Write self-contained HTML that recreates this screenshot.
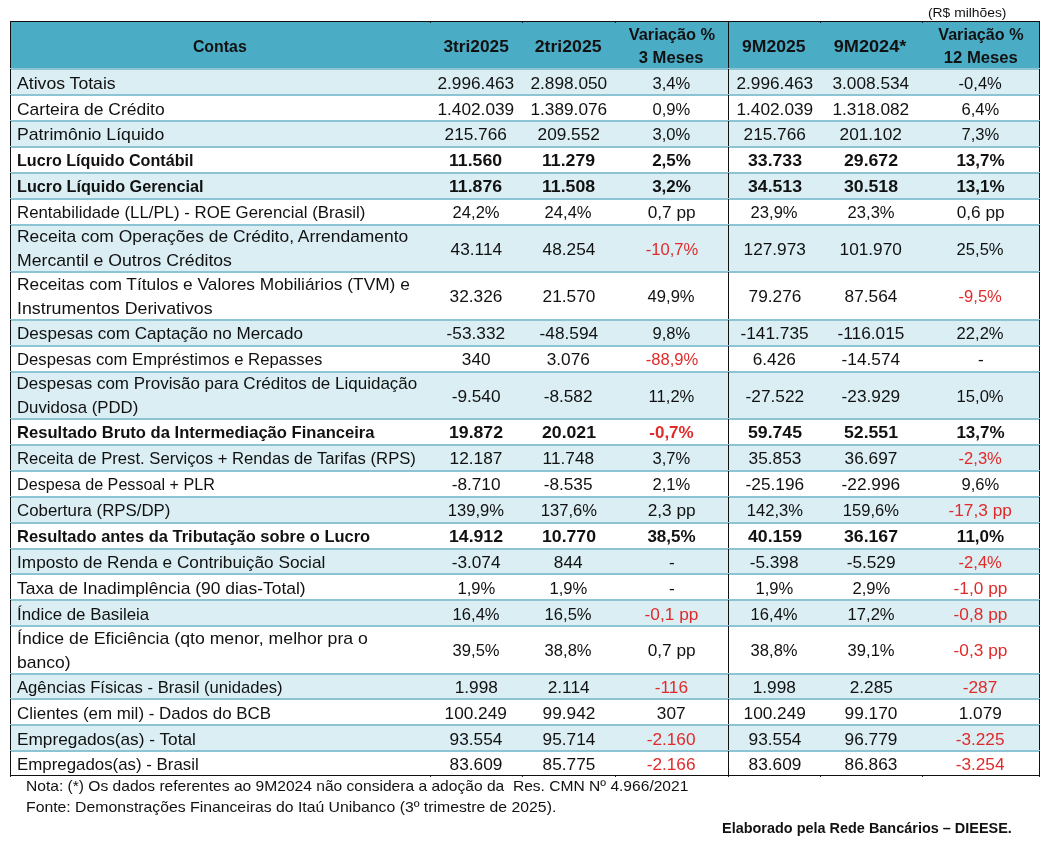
<!DOCTYPE html>
<html lang="pt-BR">
<head>
<meta charset="utf-8">
<title>Itaú Unibanco - 3tri2025</title>
<style>
html,body{margin:0;padding:0;background:#fff;}
body{width:1048px;height:841px;position:relative;overflow:hidden;font-family:"Liberation Sans",sans-serif;color:#111;}
.unit{position:absolute;left:927.5px;top:3.5px;font-size:13px;line-height:18px;white-space:nowrap;transform-origin:0 50%;transform:scaleX(1.064);}
.frame{position:absolute;left:10px;top:21px;width:1028px;height:753px;border:1px solid #111;}
.vline{position:absolute;left:728px;top:21px;width:1px;height:755px;background:#111;}
.ov{position:absolute;left:10px;width:1030px;height:1px;background:#8cc4d3;}
.tk{position:absolute;width:1px;height:1px;background:#222;}
.hdr{position:absolute;left:11px;top:22px;width:1028px;height:46px;background:#4bacc6;}
.hdr div{position:absolute;top:1.5px;height:46px;display:flex;flex-direction:column;align-items:center;justify-content:center;text-align:center;white-space:nowrap;font-weight:bold;font-size:17px;line-height:22.5px;}
.hdr span{display:block;}
.hdr div.s{top:2.5px;}
.row{position:absolute;left:11px;width:1028px;border-top:2px solid #8cc4d3;box-sizing:border-box;}
.row.a{background:#daeef3;}
.row.b{background:#fff;}
.c{position:absolute;top:1px;bottom:-1px;display:flex;flex-direction:column;justify-content:flex-end;font-size:17px;line-height:23.3px;white-space:nowrap;}
.row.u .c{top:0;bottom:0;}
.c.l{left:5.6px;padding-bottom:0;}
.c.n{align-items:center;}
.c.m{justify-content:center;}
.c.n span{display:block;transform:scaleX(1.015);}
.c.n span.p{transform:scaleX(.975);}
.bold .c.n span{transform:scaleX(1.04);}
.bold .c.n span.p{transform:scaleX(1);}
.bold{font-weight:bold;}
.c.l span{display:block;transform-origin:0 50%;}
.red{color:#e12a2a;}
.note{position:absolute;left:25.5px;font-size:15px;line-height:20.8px;white-space:pre;transform-origin:0 50%;}
.elab{position:absolute;left:722px;top:818.1px;transform:scaleX(.963);transform-origin:0 50%;font-size:15px;line-height:20.8px;font-weight:bold;white-space:nowrap;transform-origin:0 50%;}
</style>
</head>
<body>
<div class="unit">(R$ milhões)</div>
<div class="hdr">
<div class="s" style="left:-1px;width:419px"><span style="transform:scaleX(0.934)">Contas</span></div>
<div class="s" style="left:419px;width:92px"><span style="transform:scaleX(1.016)">3tri2025</span></div>
<div class="s" style="left:511px;width:93px"><span style="transform:scaleX(1.04)">2tri2025</span></div>
<div style="left:604px;width:113px"><span style="transform:scaleX(0.963)">Variação %</span><span style="transform:scaleX(0.977)">3 Meses</span></div>
<div class="s" style="left:717.5px;width:91px"><span style="transform:scaleX(1.033)">9M2025</span></div>
<div class="s" style="left:808px;width:102px"><span style="transform:scaleX(1.066)">9M2024*</span></div>
<div style="left:911px;width:117px"><span style="transform:scaleX(0.95)">Variação %</span><span style="transform:scaleX(0.98)">12 Meses</span></div>
</div>
<div class="row a" style="top:68px;height:26px">
  <div class="c l"><span id="L0_0" style="transform:scaleX(1.0371)">Ativos Totais</span></div>
  <div class="c n" style="left:419px;width:92px"><span>2.996.463</span></div>
  <div class="c n" style="left:511px;width:93px"><span>2.898.050</span></div>
  <div class="c n" style="left:604px;width:113px"><span class="p">3,4%</span></div>
  <div class="c n" style="left:718px;width:91px"><span>2.996.463</span></div>
  <div class="c n" style="left:809px;width:102px"><span>3.008.534</span></div>
  <div class="c n" style="left:911px;width:117px"><span class="p">-0,4%</span></div>
</div>
<div class="row b" style="top:94px;height:26px">
  <div class="c l"><span id="L1_0" style="transform:scaleX(1.0281)">Carteira de Crédito</span></div>
  <div class="c n" style="left:419px;width:92px"><span>1.402.039</span></div>
  <div class="c n" style="left:511px;width:93px"><span>1.389.076</span></div>
  <div class="c n" style="left:604px;width:113px"><span class="p">0,9%</span></div>
  <div class="c n" style="left:718px;width:91px"><span>1.402.039</span></div>
  <div class="c n" style="left:809px;width:102px"><span>1.318.082</span></div>
  <div class="c n" style="left:911px;width:117px"><span class="p">6,4%</span></div>
</div>
<div class="row a u" style="top:120px;height:26px">
  <div class="c l"><span id="L2_0" style="transform:scaleX(1.0389)">Patrimônio Líquido</span></div>
  <div class="c n" style="left:419px;width:92px"><span>215.766</span></div>
  <div class="c n" style="left:511px;width:93px"><span>209.552</span></div>
  <div class="c n" style="left:604px;width:113px"><span class="p">3,0%</span></div>
  <div class="c n" style="left:718px;width:91px"><span>215.766</span></div>
  <div class="c n" style="left:809px;width:102px"><span>201.102</span></div>
  <div class="c n" style="left:911px;width:117px"><span class="p">7,3%</span></div>
</div>
<div class="row b bold u" style="top:146px;height:26px">
  <div class="c l"><span id="L3_0" style="transform:scaleX(0.9485)">Lucro Líquido Contábil</span></div>
  <div class="c n" style="left:419px;width:92px"><span>11.560</span></div>
  <div class="c n" style="left:511px;width:93px"><span>11.279</span></div>
  <div class="c n" style="left:604px;width:113px"><span class="p">2,5%</span></div>
  <div class="c n" style="left:718px;width:91px"><span>33.733</span></div>
  <div class="c n" style="left:809px;width:102px"><span>29.672</span></div>
  <div class="c n" style="left:911px;width:117px"><span class="p">13,7%</span></div>
</div>
<div class="row a bold u" style="top:172px;height:26px">
  <div class="c l"><span id="L4_0" style="transform:scaleX(0.9537)">Lucro Líquido Gerencial</span></div>
  <div class="c n" style="left:419px;width:92px"><span>11.876</span></div>
  <div class="c n" style="left:511px;width:93px"><span>11.508</span></div>
  <div class="c n" style="left:604px;width:113px"><span class="p">3,2%</span></div>
  <div class="c n" style="left:718px;width:91px"><span>34.513</span></div>
  <div class="c n" style="left:809px;width:102px"><span>30.518</span></div>
  <div class="c n" style="left:911px;width:117px"><span class="p">13,1%</span></div>
</div>
<div class="row b u" style="top:198px;height:26px">
  <div class="c l"><span id="L5_0" style="transform:scaleX(0.9886)">Rentabilidade (LL/PL) - ROE Gerencial (Brasil)</span></div>
  <div class="c n" style="left:419px;width:92px"><span class="p">24,2%</span></div>
  <div class="c n" style="left:511px;width:93px"><span class="p">24,4%</span></div>
  <div class="c n" style="left:604px;width:113px"><span>0,7 pp</span></div>
  <div class="c n" style="left:718px;width:91px"><span class="p">23,9%</span></div>
  <div class="c n" style="left:809px;width:102px"><span class="p">23,3%</span></div>
  <div class="c n" style="left:911px;width:117px"><span>0,6 pp</span></div>
</div>
<div class="row a" style="top:224px;height:47px">
  <div class="c l"><span id="L6_0" style="transform:scaleX(1.0249)">Receita com Operações de Crédito, Arrendamento</span><span id="L6_1" style="transform:scaleX(1.0388)">Mercantil e Outros Créditos</span></div>
  <div class="c n m" style="left:419px;width:92px"><span>43.114</span></div>
  <div class="c n m" style="left:511px;width:93px"><span>48.254</span></div>
  <div class="c n m red" style="left:604px;width:113px"><span class="p">-10,7%</span></div>
  <div class="c n m" style="left:718px;width:91px"><span>127.973</span></div>
  <div class="c n m" style="left:809px;width:102px"><span>101.970</span></div>
  <div class="c n m" style="left:911px;width:117px"><span class="p">25,5%</span></div>
</div>
<div class="row b" style="top:271px;height:48px">
  <div class="c l"><span id="L7_0" style="transform:scaleX(1.0182)">Receitas com Títulos e Valores Mobiliários (TVM) e</span><span id="L7_1" style="transform:scaleX(1.0456)">Instrumentos Derivativos</span></div>
  <div class="c n m" style="left:419px;width:92px"><span>32.326</span></div>
  <div class="c n m" style="left:511px;width:93px"><span>21.570</span></div>
  <div class="c n m" style="left:604px;width:113px"><span class="p">49,9%</span></div>
  <div class="c n m" style="left:718px;width:91px"><span>79.276</span></div>
  <div class="c n m" style="left:809px;width:102px"><span>87.564</span></div>
  <div class="c n m red" style="left:911px;width:117px"><span class="p">-9,5%</span></div>
</div>
<div class="row a u" style="top:319px;height:26px">
  <div class="c l"><span id="L8_0" style="transform:scaleX(1.0053)">Despesas com Captação no Mercado</span></div>
  <div class="c n" style="left:419px;width:92px"><span>-53.332</span></div>
  <div class="c n" style="left:511px;width:93px"><span>-48.594</span></div>
  <div class="c n" style="left:604px;width:113px"><span class="p">9,8%</span></div>
  <div class="c n" style="left:718px;width:91px"><span>-141.735</span></div>
  <div class="c n" style="left:809px;width:102px"><span>-116.015</span></div>
  <div class="c n" style="left:911px;width:117px"><span class="p">22,2%</span></div>
</div>
<div class="row b u" style="top:345px;height:26px">
  <div class="c l"><span id="L9_0" style="transform:scaleX(0.9823)">Despesas com Empréstimos e Repasses</span></div>
  <div class="c n" style="left:419px;width:92px"><span>340</span></div>
  <div class="c n" style="left:511px;width:93px"><span>3.076</span></div>
  <div class="c n red" style="left:604px;width:113px"><span class="p">-88,9%</span></div>
  <div class="c n" style="left:718px;width:91px"><span>6.426</span></div>
  <div class="c n" style="left:809px;width:102px"><span>-14.574</span></div>
  <div class="c n" style="left:911px;width:117px"><span>-</span></div>
</div>
<div class="row a" style="top:371px;height:47px">
  <div class="c l"><span id="L10_0" style="transform:scaleX(1.0000)">Despesas com Provisão para Créditos de Liquidação</span><span id="L10_1" style="transform:scaleX(0.9876)">Duvidosa (PDD)</span></div>
  <div class="c n m" style="left:419px;width:92px"><span>-9.540</span></div>
  <div class="c n m" style="left:511px;width:93px"><span>-8.582</span></div>
  <div class="c n m" style="left:604px;width:113px"><span class="p">11,2%</span></div>
  <div class="c n m" style="left:718px;width:91px"><span>-27.522</span></div>
  <div class="c n m" style="left:809px;width:102px"><span>-23.929</span></div>
  <div class="c n m" style="left:911px;width:117px"><span class="p">15,0%</span></div>
</div>
<div class="row b bold u" style="top:418px;height:26px">
  <div class="c l"><span id="L11_0" style="transform:scaleX(0.9754)">Resultado Bruto da Intermediação Financeira</span></div>
  <div class="c n" style="left:419px;width:92px"><span>19.872</span></div>
  <div class="c n" style="left:511px;width:93px"><span>20.021</span></div>
  <div class="c n red" style="left:604px;width:113px"><span class="p">-0,7%</span></div>
  <div class="c n" style="left:718px;width:91px"><span>59.745</span></div>
  <div class="c n" style="left:809px;width:102px"><span>52.551</span></div>
  <div class="c n" style="left:911px;width:117px"><span class="p">13,7%</span></div>
</div>
<div class="row a u" style="top:444px;height:26px">
  <div class="c l"><span id="L12_0" style="transform:scaleX(0.9791)">Receita de Prest. Serviços + Rendas de Tarifas (RPS)</span></div>
  <div class="c n" style="left:419px;width:92px"><span>12.187</span></div>
  <div class="c n" style="left:511px;width:93px"><span>11.748</span></div>
  <div class="c n" style="left:604px;width:113px"><span class="p">3,7%</span></div>
  <div class="c n" style="left:718px;width:91px"><span>35.853</span></div>
  <div class="c n" style="left:809px;width:102px"><span>36.697</span></div>
  <div class="c n red" style="left:911px;width:117px"><span class="p">-2,3%</span></div>
</div>
<div class="row b u" style="top:470px;height:26px">
  <div class="c l"><span id="L13_0" style="transform:scaleX(0.9494)">Despesa de Pessoal + PLR</span></div>
  <div class="c n" style="left:419px;width:92px"><span>-8.710</span></div>
  <div class="c n" style="left:511px;width:93px"><span>-8.535</span></div>
  <div class="c n" style="left:604px;width:113px"><span class="p">2,1%</span></div>
  <div class="c n" style="left:718px;width:91px"><span>-25.196</span></div>
  <div class="c n" style="left:809px;width:102px"><span>-22.996</span></div>
  <div class="c n" style="left:911px;width:117px"><span class="p">9,6%</span></div>
</div>
<div class="row a u" style="top:496px;height:26px">
  <div class="c l"><span id="L14_0" style="transform:scaleX(0.9902)">Cobertura (RPS/DP)</span></div>
  <div class="c n" style="left:419px;width:92px"><span class="p">139,9%</span></div>
  <div class="c n" style="left:511px;width:93px"><span class="p">137,6%</span></div>
  <div class="c n" style="left:604px;width:113px"><span>2,3 pp</span></div>
  <div class="c n" style="left:718px;width:91px"><span class="p">142,3%</span></div>
  <div class="c n" style="left:809px;width:102px"><span class="p">159,6%</span></div>
  <div class="c n red" style="left:911px;width:117px"><span>-17,3 pp</span></div>
</div>
<div class="row b bold u" style="top:522px;height:26px">
  <div class="c l"><span id="L15_0" style="transform:scaleX(0.9684)">Resultado antes da Tributação sobre o Lucro</span></div>
  <div class="c n" style="left:419px;width:92px"><span>14.912</span></div>
  <div class="c n" style="left:511px;width:93px"><span>10.770</span></div>
  <div class="c n" style="left:604px;width:113px"><span class="p">38,5%</span></div>
  <div class="c n" style="left:718px;width:91px"><span>40.159</span></div>
  <div class="c n" style="left:809px;width:102px"><span>36.167</span></div>
  <div class="c n" style="left:911px;width:117px"><span class="p">11,0%</span></div>
</div>
<div class="row a" style="top:548px;height:25px">
  <div class="c l"><span id="L16_0" style="transform:scaleX(1.0132)">Imposto de Renda e Contribuição Social</span></div>
  <div class="c n" style="left:419px;width:92px"><span>-3.074</span></div>
  <div class="c n" style="left:511px;width:93px"><span>844</span></div>
  <div class="c n" style="left:604px;width:113px"><span>-</span></div>
  <div class="c n" style="left:718px;width:91px"><span>-5.398</span></div>
  <div class="c n" style="left:809px;width:102px"><span>-5.529</span></div>
  <div class="c n red" style="left:911px;width:117px"><span class="p">-2,4%</span></div>
</div>
<div class="row b" style="top:573px;height:26px">
  <div class="c l"><span id="L17_0" style="transform:scaleX(1.0250)">Taxa de Inadimplência (90 dias-Total)</span></div>
  <div class="c n" style="left:419px;width:92px"><span class="p">1,9%</span></div>
  <div class="c n" style="left:511px;width:93px"><span class="p">1,9%</span></div>
  <div class="c n" style="left:604px;width:113px"><span>-</span></div>
  <div class="c n" style="left:718px;width:91px"><span class="p">1,9%</span></div>
  <div class="c n" style="left:809px;width:102px"><span class="p">2,9%</span></div>
  <div class="c n red" style="left:911px;width:117px"><span>-1,0 pp</span></div>
</div>
<div class="row a" style="top:599px;height:26px">
  <div class="c l"><span id="L18_0" style="transform:scaleX(0.9925)">Índice de Basileia</span></div>
  <div class="c n" style="left:419px;width:92px"><span class="p">16,4%</span></div>
  <div class="c n" style="left:511px;width:93px"><span class="p">16,5%</span></div>
  <div class="c n red" style="left:604px;width:113px"><span>-0,1 pp</span></div>
  <div class="c n" style="left:718px;width:91px"><span class="p">16,4%</span></div>
  <div class="c n" style="left:809px;width:102px"><span class="p">17,2%</span></div>
  <div class="c n red" style="left:911px;width:117px"><span>-0,8 pp</span></div>
</div>
<div class="row b" style="top:625px;height:48px">
  <div class="c l"><span id="L19_0" style="transform:scaleX(1.0401)">Índice de Eficiência (qto menor, melhor pra o</span><span id="L19_1" style="transform:scaleX(1.0298)">banco)</span></div>
  <div class="c n m" style="left:419px;width:92px"><span class="p">39,5%</span></div>
  <div class="c n m" style="left:511px;width:93px"><span class="p">38,8%</span></div>
  <div class="c n m" style="left:604px;width:113px"><span>0,7 pp</span></div>
  <div class="c n m" style="left:718px;width:91px"><span class="p">38,8%</span></div>
  <div class="c n m" style="left:809px;width:102px"><span class="p">39,1%</span></div>
  <div class="c n m red" style="left:911px;width:117px"><span>-0,3 pp</span></div>
</div>
<div class="row a" style="top:673px;height:25px">
  <div class="c l"><span id="L20_0" style="transform:scaleX(0.9797)">Agências Físicas - Brasil (unidades)</span></div>
  <div class="c n" style="left:419px;width:92px"><span>1.998</span></div>
  <div class="c n" style="left:511px;width:93px"><span>2.114</span></div>
  <div class="c n red" style="left:604px;width:113px"><span>-116</span></div>
  <div class="c n" style="left:718px;width:91px"><span>1.998</span></div>
  <div class="c n" style="left:809px;width:102px"><span>2.285</span></div>
  <div class="c n red" style="left:911px;width:117px"><span>-287</span></div>
</div>
<div class="row b" style="top:698px;height:26px">
  <div class="c l"><span id="L21_0" style="transform:scaleX(0.9961)">Clientes (em mil) - Dados do BCB</span></div>
  <div class="c n" style="left:419px;width:92px"><span>100.249</span></div>
  <div class="c n" style="left:511px;width:93px"><span>99.942</span></div>
  <div class="c n" style="left:604px;width:113px"><span>307</span></div>
  <div class="c n" style="left:718px;width:91px"><span>100.249</span></div>
  <div class="c n" style="left:809px;width:102px"><span>99.170</span></div>
  <div class="c n" style="left:911px;width:117px"><span>1.079</span></div>
</div>
<div class="row a" style="top:724px;height:26px">
  <div class="c l"><span id="L22_0" style="transform:scaleX(1.0143)">Empregados(as) - Total</span></div>
  <div class="c n" style="left:419px;width:92px"><span>93.554</span></div>
  <div class="c n" style="left:511px;width:93px"><span>95.714</span></div>
  <div class="c n red" style="left:604px;width:113px"><span>-2.160</span></div>
  <div class="c n" style="left:718px;width:91px"><span>93.554</span></div>
  <div class="c n" style="left:809px;width:102px"><span>96.779</span></div>
  <div class="c n red" style="left:911px;width:117px"><span>-3.225</span></div>
</div>
<div class="row b" style="top:750px;height:25px">
  <div class="c l"><span id="L23_0" style="transform:scaleX(0.9918)">Empregados(as) - Brasil</span></div>
  <div class="c n" style="left:419px;width:92px"><span>83.609</span></div>
  <div class="c n" style="left:511px;width:93px"><span>85.775</span></div>
  <div class="c n red" style="left:604px;width:113px"><span>-2.166</span></div>
  <div class="c n" style="left:718px;width:91px"><span>83.609</span></div>
  <div class="c n" style="left:809px;width:102px"><span>86.863</span></div>
  <div class="c n red" style="left:911px;width:117px"><span>-3.254</span></div>
</div>
<div class="frame"></div>
<div class="vline"></div>
<div class="ov" style="top:68px"></div>
<div class="ov" style="top:94px"></div>
<div class="ov" style="top:120px"></div>
<div class="ov" style="top:146px"></div>
<div class="ov" style="top:172px"></div>
<div class="ov" style="top:198px"></div>
<div class="ov" style="top:224px"></div>
<div class="ov" style="top:271px"></div>
<div class="ov" style="top:319px"></div>
<div class="ov" style="top:345px"></div>
<div class="ov" style="top:371px"></div>
<div class="ov" style="top:418px"></div>
<div class="ov" style="top:444px"></div>
<div class="ov" style="top:470px"></div>
<div class="ov" style="top:496px"></div>
<div class="ov" style="top:522px"></div>
<div class="ov" style="top:548px"></div>
<div class="ov" style="top:573px"></div>
<div class="ov" style="top:599px"></div>
<div class="ov" style="top:625px"></div>
<div class="ov" style="top:673px"></div>
<div class="ov" style="top:698px"></div>
<div class="ov" style="top:724px"></div>
<div class="ov" style="top:750px"></div>
<div class="tk" style="left:430px;top:22px"></div>
<div class="tk" style="left:522px;top:22px"></div>
<div class="tk" style="left:615px;top:22px"></div>
<div class="tk" style="left:820px;top:22px"></div>
<div class="tk" style="left:922px;top:22px"></div>
<div class="tk" style="left:10px;top:776px"></div>
<div class="tk" style="left:430px;top:776px"></div>
<div class="tk" style="left:522px;top:776px"></div>
<div class="tk" style="left:615px;top:776px"></div>
<div class="tk" style="left:728px;top:776px"></div>
<div class="tk" style="left:820px;top:776px"></div>
<div class="tk" style="left:922px;top:776px"></div>
<div class="tk" style="left:1039px;top:776px"></div>
<div class="note" style="top:776.3px;transform:scaleX(1.039)">Nota: (*) Os dados referentes ao 9M2024 não considera a adoção da  Res. CMN Nº 4.966/2021</div>
<div class="note" style="top:796.9px;transform:scaleX(1.052)">Fonte: Demonstrações Financeiras do Itaú Unibanco (3º trimestre de 2025).</div>
<div class="elab">Elaborado pela Rede Bancários – DIEESE.</div>
</body>
</html>
